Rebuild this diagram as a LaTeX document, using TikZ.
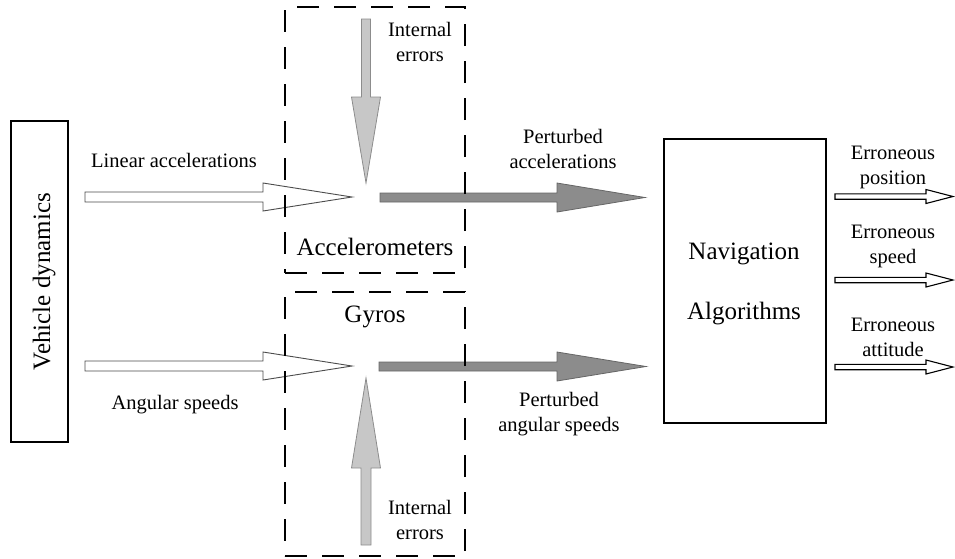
\documentclass[tikz,border=0pt]{standalone}
\usepackage{fontspec}
\setmainfont{Liberation Serif}
\usetikzlibrary{calc}
% block arrow: style, start, end, half shaft, half head, head length
\newcommand{\BlockArrow}[6]{%
  \coordinate (hb) at ($(#3)!#6!(#2)$);
  \draw[#1] ($(#2)!#4!90:(#3)$) -- ($(hb)!#4!90:(#3)$) -- ($(hb)!#5!90:(#3)$) -- (#3)
    -- ($(hb)!#5!-90:(#3)$) -- ($(hb)!#4!-90:(#3)$) -- ($(#2)!#4!-90:(#3)$) -- cycle;}
\tikzset{
  solidbox/.style={draw, line width=1.4pt, inner sep=0pt},
  dashbox/.style={draw, line width=1.3pt, dash pattern=on 22pt off 15pt, inner sep=0pt},
  whitearr/.style={draw=black!70, fill=white, line width=0.9pt, line join=miter},
  lightarr/.style={draw=black!45, fill=black!22, line width=0.8pt, line join=miter},
  darkarr/.style={draw=black!60, fill=black!45, line width=0.8pt, line join=miter},
  smallarr/.style={draw=black, fill=white, line width=1.1pt, line join=miter},
  lbl/.style={font=\fontsize{20.5}{25}\selectfont, align=center, inner sep=0pt, anchor=base},
  big/.style={font=\fontsize{25}{30}\selectfont, align=center, inner sep=0pt, anchor=base},
}
\begin{document}
\begin{tikzpicture}[x=1pt, y=-1pt]
\useasboundingbox (0,0) rectangle (955,558);

% boxes
\node[solidbox, minimum width=57pt, minimum height=321pt] (vd) at (39.5,281.5) {};
\node[big, rotate=90] (vdt) at (50,281.5) {Vehicle dynamics};
\node[solidbox, minimum width=162pt, minimum height=284pt] (nav) at (745,281) {};
% multi-line nodes: base anchor = baseline of the last line
\node[big, font=\fontsize{25}{60}\selectfont] (navt) at (744,319.5) {Navigation\\Algorithms};

% arrow end points
\coordinate (la0) at (85,197);   \coordinate (la1) at (352,197);
\coordinate (as0) at (85,366);   \coordinate (as1) at (352,366);
\coordinate (ie0) at (366,19);   \coordinate (ie1) at (366,183);
\coordinate (ig0) at (366,545);  \coordinate (ig1) at (366,378);
\coordinate (pa0) at (380,197.5);\coordinate (pa1) at (645,197.5);
\coordinate (pg0) at (379,366.5);\coordinate (pg1) at (646,366.5);
\coordinate (ep0) at (835,196.5);\coordinate (ep1) at (953,196.5);
\coordinate (es0) at (835,280);  \coordinate (es1) at (953,280);
\coordinate (ea0) at (835,367);  \coordinate (ea1) at (953,367);

\BlockArrow{whitearr}{la0}{la1}{5pt}{14pt}{89pt}
\BlockArrow{whitearr}{as0}{as1}{5pt}{14pt}{89pt}
\BlockArrow{lightarr}{ie0}{ie1}{4.5pt}{14.5pt}{86pt}
\BlockArrow{lightarr}{ig0}{ig1}{5pt}{14.5pt}{90pt}
\BlockArrow{darkarr}{pa0}{pa1}{4.5pt}{14.5pt}{88pt}
\BlockArrow{darkarr}{pg0}{pg1}{4.5pt}{14.5pt}{89pt}
\BlockArrow{smallarr}{ep0}{ep1}{2.7pt}{7pt}{27pt}
\BlockArrow{smallarr}{es0}{es1}{2.7pt}{7pt}{27pt}
\BlockArrow{smallarr}{ea0}{ea1}{2.7pt}{7pt}{27pt}

% dashed boxes (drawn over the arrows)
\node[dashbox, minimum width=180pt, minimum height=266pt] (acc) at (375,140) {};
\node[dashbox, minimum width=180pt, minimum height=264pt] (gyr) at (375,424) {};

% labels
\node[lbl] (tla) at (174,167) {Linear accelerations};
\node[lbl] (tas) at (175,409) {Angular speeds};
\node[lbl] (tie) at (420,61) {Internal\\errors};
\node[lbl] (tig) at (420,539) {Internal\\errors};
\node[big] (tacc) at (375,255.5) {Accelerometers};
\node[big] (tgyr) at (375,322.5) {Gyros};
\node[lbl] (tpa) at (563,168) {Perturbed\\accelerations};
\node[lbl] (tpg) at (559,431) {Perturbed\\angular speeds};
\node[lbl] (tep) at (893,184) {Erroneous\\position};
\node[lbl] (tes) at (893,263) {Erroneous\\speed};
\node[lbl] (tea) at (893,356) {Erroneous\\attitude};
\end{tikzpicture}
\end{document}
